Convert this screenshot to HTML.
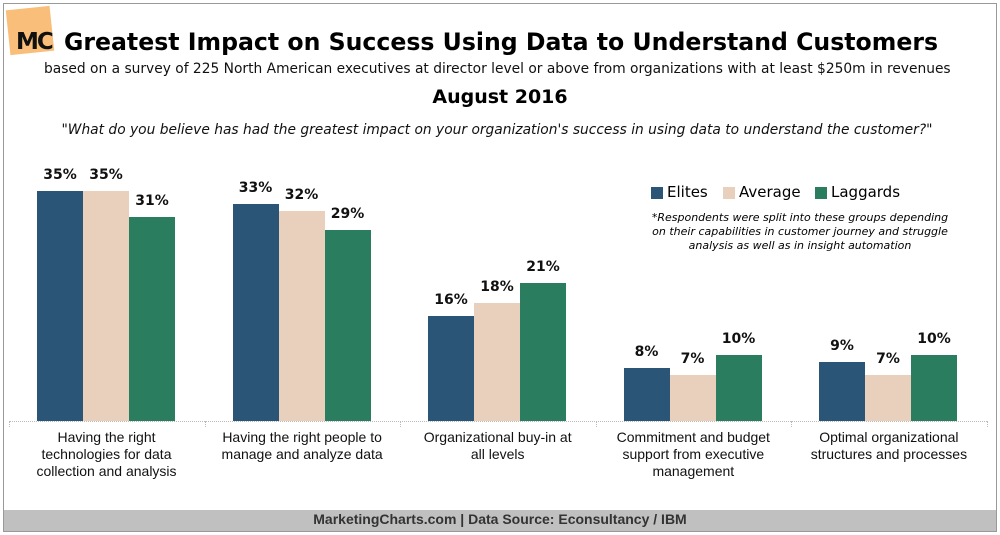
<!DOCTYPE html>
<html><head><meta charset="utf-8"><style>
body{margin:0;width:1000px;height:535px;background:#fff;font-family:"DejaVu Sans","Liberation Sans",sans-serif;position:relative;overflow:hidden}
.a{position:absolute;white-space:nowrap}
.bar{position:absolute;width:46px}
.b{background:#2b5577}.e{background:#e8d0bd}.g{background:#2a7d5e}
.v{position:absolute;width:46px;text-align:center;font-weight:bold;font-size:14px;color:#111}
.cat{position:absolute;width:195px;text-align:center;font-size:14px;line-height:17px;font-family:"Liberation Sans Narrow","Liberation Sans",sans-serif;color:#111}
</style></head><body>
<div class="a" style="left:3px;top:3px;width:992px;height:527px;border:1px solid #999"></div>
<div class="a" style="left:4px;top:510px;width:992px;height:21px;background:#c0c0c0"></div>
<div class="a" style="left:0;top:511px;width:1000px;text-align:center;font-size:14px;font-weight:bold;color:#333;font-family:'Liberation Sans Narrow','Liberation Sans',sans-serif">MarketingCharts.com | Data Source: Econsultancy / IBM</div>
<div class="a" style="left:8px;top:8px;width:44px;height:45px;background:#f8b76a;transform:rotate(-6deg);opacity:.9"></div>
<div class="a" style="left:16px;top:29px;font-size:23px;font-weight:bold;color:#111;letter-spacing:-2px">MC</div>
<div class="a" style="left:64px;top:28px;font-size:23.6px;font-weight:bold;color:#000">Greatest Impact on Success Using Data to Understand Customers</div>
<div class="a" style="left:44px;top:61px;font-size:13.8px;color:#111">based on a survey of 225 North American executives at director level or above from organizations with at least $250m in revenues</div>
<div class="a" style="left:0;top:86px;width:1000px;text-align:center;font-size:19px;font-weight:bold">August 2016</div>
<div class="a" style="left:0;top:122px;width:994px;text-align:center;font-size:13.8px;font-style:italic;color:#111">"What do you believe has had the greatest impact on your organization's success in using data to understand the customer?"</div>
<div class="a" style="left:651px;top:187px;width:12px;height:12px;background:#2b5577"></div>
<div class="a" style="left:667px;top:183px;font-size:15px">Elites</div>
<div class="a" style="left:723px;top:187px;width:12px;height:12px;background:#e8d0bd"></div>
<div class="a" style="left:739px;top:183px;font-size:15px">Average</div>
<div class="a" style="left:815px;top:187px;width:12px;height:12px;background:#2a7d5e"></div>
<div class="a" style="left:831px;top:183px;font-size:15px">Laggards</div>
<div class="a" style="left:600px;top:211px;width:400px;text-align:center;font-size:11px;font-style:italic;line-height:14px">*Respondents were split into these groups depending<br>on their capabilities in customer journey and struggle<br>analysis as well as in insight automation</div>
<div class="a" style="left:9px;top:421px;width:978px;border-top:1px dotted #bbb"></div>
<div id="c"></div>
<script>
var d=[[35,35,31],[33,32,29],[16,18,21],[8,7,10],[9,7,10]];
var cats=["Having the right<br>technologies for data<br>collection and analysis","Having the right people to<br>manage and analyze data","Organizational buy-in at<br>all levels","Commitment and budget<br>support from executive<br>management","Optimal organizational<br>structures and processes"];
var cl=["b","e","g"],h="";
for(var i=0;i<5;i++){var x0=37+i*195.5;
for(var j=0;j<3;j++){var hh=d[i][j]*6.57,x=x0+j*46;
h+='<div class="bar '+cl[j]+'" style="left:'+x+'px;top:'+(421-hh)+'px;height:'+hh+'px"></div>';
h+='<div class="v" style="left:'+x+'px;top:'+(421-hh-24)+'px">'+d[i][j]+'%</div>';}
h+='<div class="cat" style="left:'+(9+i*195.6)+'px;top:429px">'+cats[i]+'</div>';
h+='<div class="a" style="left:'+(9+i*195.6)+'px;top:421px;height:6px;border-left:1px dotted #bbb"></div>';}
h+='<div class="a" style="left:987px;top:421px;height:6px;border-left:1px dotted #bbb"></div>';
document.getElementById("c").innerHTML=h;
</script>
</body></html>
